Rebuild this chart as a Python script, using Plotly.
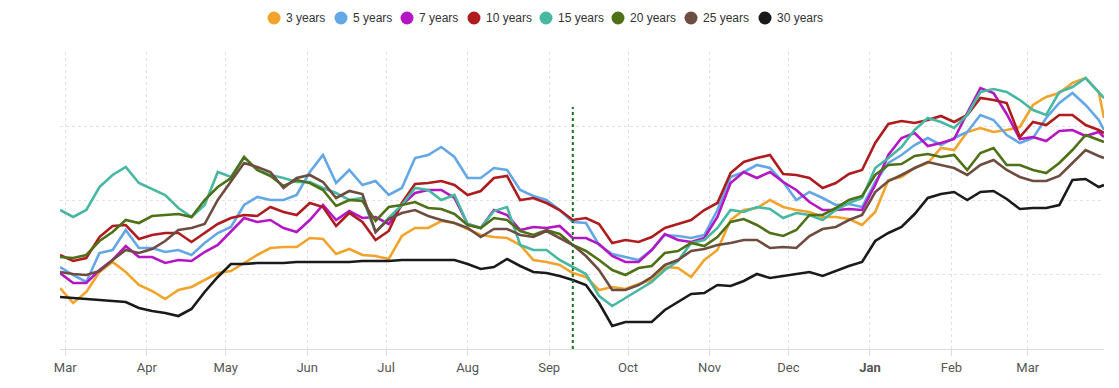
import pandas as pd
import plotly.graph_objects as go

# sample dates: every 5 days from 2023-02-27, plus the last day
dates = list(pd.date_range("2023-02-27", periods=80, freq="5D")) + [pd.Timestamp("2024-03-30")]

month_ticks = list(pd.date_range("2023-03-01", "2024-03-01", freq="MS"))
month_labels = ["Mar", "Apr", "May", "Jun", "Jul", "Aug", "Sep", "Oct", "Nov", "Dec",
                "<b>Jan</b>", "Feb", "Mar"]

marker_date = "2023-09-10"
marker_top = 242

y3 = [61, 46, 57, 77, 87, 77, 64, 58, 50, 59,
      62, 69, 76, 78, 86, 94, 101, 102, 102, 111,
      110, 95, 100, 94, 93, 90, 113, 121, 121, 128,
      126, 120, 114, 112, 111, 104, 89, 87, 84, 76,
      72, 59, 62, 60, 65, 69, 82, 81, 72, 89,
      99, 129, 139, 141, 149, 142, 139, 137, 132, 132,
      130, 124, 137, 169, 172, 181, 186, 201, 199, 217,
      221, 217, 219, 222, 244, 252, 256, 266, 271, 257,
      231]
y5 = [82, 74, 67, 96, 99, 119, 101, 101, 97, 99,
      94, 106, 116, 122, 144, 152, 149, 149, 154, 177,
      194, 166, 179, 164, 168, 154, 161, 191, 194, 202,
      192, 171, 171, 181, 179, 159, 153, 149, 139, 127,
      126, 104, 95, 92, 89, 99, 114, 113, 111, 114,
      139, 172, 177, 184, 181, 167, 149, 157, 151, 144,
      145, 142, 167, 186, 194, 204, 211, 204, 211, 217,
      234, 229, 214, 206, 211, 231, 246, 256, 244, 229,
      219]
y7 = [76, 66, 66, 79, 89, 103, 92, 92, 86, 89,
      88, 97, 104, 118, 131, 127, 129, 121, 117, 129,
      144, 129, 138, 131, 132, 125, 144, 156, 159, 159,
      151, 125, 121, 139, 134, 119, 122, 121, 123, 111,
      111, 105, 93, 87, 87, 99, 115, 109, 107, 111,
      132, 166, 177, 171, 177, 167, 159, 147, 139, 139,
      140, 139, 164, 194, 211, 216, 203, 206, 210, 236,
      261, 256, 235, 210, 212, 208, 218, 219, 213, 217,
      212]
y10 = [94, 88, 91, 112, 123, 124, 110, 114, 116, 116,
       107, 116, 125, 131, 134, 133, 142, 137, 134, 146,
       142, 123, 136, 127, 109, 118, 146, 165, 166, 168,
       164, 154, 158, 171, 173, 149, 151, 146, 139, 129,
       131, 125, 106, 109, 107, 112, 121, 125, 129, 139,
       146, 176, 187, 191, 194, 175, 174, 171, 161, 166,
       175, 179, 206, 225, 228, 226, 229, 233, 227, 234,
       251, 249, 246, 212, 227, 224, 234, 234, 224, 219,
       216]
y15 = [139, 132, 139, 162, 174, 182, 166, 160, 154, 141,
       132, 144, 177, 172, 192, 179, 174, 171, 167, 167,
       161, 156, 149, 151, 117, 131, 144, 161, 159, 149,
       154, 125, 121, 138, 142, 104, 99, 99, 89, 82,
       75, 53, 43, 51, 59, 67, 79, 88, 106, 109,
       121, 139, 137, 142, 140, 131, 136, 134, 129, 139,
       146, 151, 181, 191, 202, 219, 231, 227, 221, 234,
       257, 260, 257, 249, 239, 234, 257, 262, 271, 256,
       251]
y20 = [92, 91, 94, 108, 117, 129, 126, 133, 134, 135,
       132, 149, 162, 171, 192, 179, 173, 163, 169, 166,
       159, 143, 149, 148, 128, 142, 144, 147, 141, 140,
       135, 124, 121, 131, 129, 118, 114, 119, 115, 104,
       98, 89, 79, 74, 81, 83, 96, 98, 106, 103,
       112, 127, 130, 124, 116, 113, 119, 134, 134, 141,
       149, 153, 174, 184, 185, 193, 195, 192, 194, 179,
       196, 201, 184, 184, 179, 176, 186, 199, 214, 209,
       207]
y25 = [77, 75, 74, 78, 89, 99, 96, 100, 108, 119,
       121, 125, 149, 167, 186, 182, 177, 161, 171, 174,
       167, 151, 158, 155, 117, 130, 136, 139, 133, 129,
       126, 121, 112, 120, 120, 114, 112, 118, 111, 104,
       93, 79, 59, 59, 64, 72, 84, 89, 98, 100,
       104, 106, 109, 109, 101, 102, 101, 113, 120, 122,
       129, 134, 157, 168, 174, 181, 187, 184, 181, 174,
       184, 189, 179, 172, 168, 168, 173, 186, 199, 193,
       191]
y30 = [52, 51, 50, 49, 48, 47, 41, 38, 36, 33,
       40, 57, 72, 85, 85, 86, 86, 86, 87, 87,
       87, 87, 87, 88, 88, 88, 89, 89, 89, 89,
       89, 85, 80, 82, 90, 83, 77, 76, 73, 69,
       64, 46, 23, 27, 27, 27, 39, 47, 55, 56,
       64, 63, 68, 75, 71, 73, 75, 77, 73, 78,
       83, 87, 108, 116, 122, 135, 151, 155, 157, 149,
       157, 158, 150, 140, 141, 141, 144, 169, 170, 162,
       164]

series_names = ["3 years", "5 years", "7 years", "10 years",
                "15 years", "20 years", "25 years", "30 years"]
series_values = [y3, y5, y7, y10, y15, y20, y25, y30]
series_colors = ["#F2A32B", "#64A7E6", "#B416C4", "#AE1C1F",
                 "#47B8A2", "#4E7016", "#6E4D40", "#1a1a1a"]

# layout of the custom legend (page pixels of each swatch centre)
legend_px = [274, 341, 407, 474, 546, 618, 691, 765]
legend_py = 18

# page margins (the html body adds 8px); plot area spans x 60..1104, y 52..349
PX0, PX1, PY0, PY1 = 60, 1104, 52, 349

fig = go.Figure()
for name, vals, col in zip(series_names, series_values, series_colors):
    fig.add_trace(go.Scatter(x=dates, y=vals, mode="lines", name=name,
                             line=dict(color=col, width=2.6),
                             showlegend=False, hoverinfo="skip"))

fig.add_shape(type="line", x0=marker_date, x1=marker_date, y0=0, y1=marker_top,
              xref="x", yref="y", line=dict(color="#17751c", width=2, dash="dot"))

fy = (PY1 - legend_py) / (PY1 - PY0)
for name, col, px in zip(series_names, series_colors, legend_px):
    fx = (px - PX0) / (PX1 - PX0)
    fig.add_shape(type="circle", xref="paper", yref="paper",
                  xsizemode="pixel", ysizemode="pixel", xanchor=fx, yanchor=fy,
                  x0=-6.5, x1=6.5, y0=-6.5, y1=6.5,
                  fillcolor=col, line=dict(width=0), layer="above")
    fig.add_annotation(x=(px + 10 - PX0) / (PX1 - PX0), y=fy, xref="paper", yref="paper",
                       text=name, showarrow=False, xanchor="left", yanchor="middle",
                       xshift=0, font=dict(family="Liberation Sans, Arial, sans-serif",
                                           size=12, color="#333"))

# the page adds an 8px body margin, so the figure is 8px smaller and margins shifted
fig.update_layout(
    width=1111, height=380,
    margin=dict(l=52, r=15, t=44, b=39),
    paper_bgcolor="white", plot_bgcolor="white",
    showlegend=False,
    font=dict(family="Roboto, Arial, sans-serif", size=13, color="#444"),
    xaxis=dict(range=["2023-02-27", "2024-03-30"], tickvals=month_ticks, ticktext=month_labels,
               showgrid=True, gridcolor="#e2e2e2", griddash="dot", gridwidth=1,
               showline=True, linecolor="#dcdcdc", linewidth=1,
               ticks="outside", ticklen=6, tickcolor="#dcdcdc",
               tickfont=dict(family="Roboto, Arial, sans-serif", size=13, color="#555"),
               zeroline=False),
    yaxis=dict(range=[0, 297], tickvals=[74.25, 148.5, 222.75, 297],
               showticklabels=False, showgrid=True, gridcolor="#e2e2e2",
               griddash="dot", gridwidth=1, zeroline=False, showline=False, ticks=""),
)

fig.write_html("out.html")
